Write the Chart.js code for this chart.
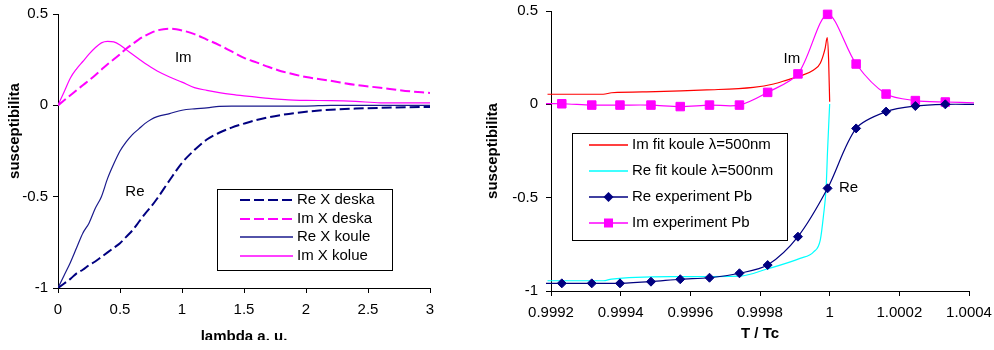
<!DOCTYPE html>
<html>
<head>
<meta charset="utf-8">
<script src="https://cdn.jsdelivr.net/npm/chart.js"></script>
<style>
html, body { margin: 0; padding: 0; background: #fff; }
#wrap { position: relative; width: 994px; height: 350px; overflow: hidden; }
#leftBox { position: absolute; left: 0; top: 0; width: 480px; height: 340px; overflow: hidden; }
#rightBox { position: absolute; left: 480px; top: 0; width: 514px; height: 350px; }
canvas { display: block; }
</style>
</head>
<body>
<div id="wrap">
  <div id="leftBox"><canvas id="lambda-chart" width="480" height="350"></canvas></div>
  <div id="rightBox"><canvas id="temp-chart" width="514" height="350"></canvas></div>
</div>
<script>
// ---- left chart: susceptibilita vs lambda ----
const lambdaX = [0, 0.05, 0.1, 0.15, 0.2, 0.25, 0.3, 0.35, 0.4, 0.45, 0.5, 0.55, 0.6, 0.65, 0.7, 0.75, 0.8,
    0.9, 1.0, 1.1, 1.2, 1.3, 1.4, 1.5, 1.6, 1.7, 1.8, 1.9, 2.0, 2.2, 2.4, 2.6, 2.8, 3.0];
const reDeska = [-1, -0.975, -0.95, -0.92, -0.9, -0.875, -0.855, -0.83, -0.805, -0.78, -0.755, -0.72, -0.685, -0.64, -0.595, -0.555, -0.51,
    -0.41, -0.315, -0.245, -0.187, -0.15, -0.122, -0.1, -0.08, -0.065, -0.053, -0.043, -0.035, -0.024, -0.018, -0.014, -0.011, -0.009];
const imDeska = [0, 0.028, 0.055, 0.083, 0.11, 0.137, 0.165, 0.195, 0.225, 0.252, 0.28, 0.31, 0.335, 0.36, 0.38, 0.397, 0.41,
    0.42, 0.41, 0.39, 0.36, 0.33, 0.295, 0.26, 0.235, 0.21, 0.187, 0.17, 0.155, 0.134, 0.112, 0.096, 0.079, 0.068];
const reKoule = [-1, -0.93, -0.86, -0.78, -0.7, -0.645, -0.565, -0.5, -0.4, -0.32, -0.25, -0.2, -0.16, -0.13, -0.1, -0.077, -0.062,
    -0.045, -0.027, -0.019, -0.014, -0.006, -0.004, -0.004, -0.004, -0.004, -0.004, -0.004, -0.004, 0, 0, 0, 0, 0];
const imKolue = [0, 0.075, 0.15, 0.2, 0.24, 0.28, 0.315, 0.342, 0.35, 0.347, 0.33, 0.305, 0.28, 0.255, 0.23, 0.208, 0.188,
    0.155, 0.127, 0.097, 0.082, 0.07, 0.06, 0.052, 0.045, 0.038, 0.033, 0.029, 0.027, 0.026, 0.022, 0.014, 0.014, 0.014];
const lambdaTicks = [0, 0.5, 1, 1.5, 2, 2.5, 3];
const lambdaTickLabels = ['0', '0.5', '1', '1.5', '2', '2.5', '3'];
const suscTicks = [-1, -0.5, 0, 0.5];
const suscTickLabels = ['-1', '-0.5', '0', '0.5'];
const leftNoteText = ['Im', 'Re'];
const leftNoteX = [1.01, 0.62];
const leftNoteY = [0.262, -0.472];

// ---- right chart: susceptibilita vs T / Tc ----
const fitImT = [0.99919, 0.99935, 0.999374, 0.9995, 0.999647, 0.999781, 0.999839, 0.999877, 0.999915, 0.999954, 0.999973, 0.999987, 0.999993, 0.999997, 1.0];
const fitImY = [0.054, 0.054, 0.062, 0.068, 0.077, 0.091, 0.109, 0.13, 0.152, 0.184, 0.22, 0.3, 0.357, 0.237, 0.014];
const fitReT = [0.99919, 0.99935, 0.999374, 0.999551, 0.999743, 0.99982, 0.999915, 0.999954, 0.999973, 0.999982, 0.99999, 0.999994, 1.0];
const fitReY = [-0.945, -0.945, -0.936, -0.923, -0.92, -0.882, -0.825, -0.79, -0.727, -0.6, -0.44, -0.245, 0.002];
const expT = [0.999145, 0.999231, 0.999317, 0.999398, 0.999487, 0.999571, 0.999655, 0.999741, 0.999822, 0.999909, 0.999994,
    1.000076, 1.000162, 1.000246, 1.000332, 1.000418];
const expRe = [-0.959, -0.959, -0.959, -0.959, -0.95, -0.937, -0.929, -0.905, -0.861, -0.709, -0.45, -0.129, -0.039, -0.009, 0, 0];
const expIm = [0.003, 0.003, -0.004, -0.004, -0.004, -0.012, -0.004, -0.004, 0.064, 0.163, 0.482, 0.216, 0.055, 0.02, 0.0125, 0.008];
const tempTicks = [0.9992, 0.9994, 0.9996, 0.9998, 1, 1.0002, 1.0004];
const tempTickLabels = ['0.9992', '0.9994', '0.9996', '0.9998', '1', '1.0002', '1.0004'];
const rightNoteText = ['Im', 'Re'];
const rightNoteX = [0.9998915, 1.000054];
const rightNoteY = [0.246, -0.45];

const FONT = "'Liberation Sans', Arial, sans-serif";
Chart.defaults.font.family = FONT;
Chart.defaults.color = '#000';

const toPoints = (xs, ys) => xs.map((x, i) => ({ x, y: ys[i] }));

// legend box drawn inside the plot, like the original
const boxLegend = {
    id: 'boxLegend',
    afterDatasetsDraw(chart, args, o) {
        const ctx = chart.ctx;
        ctx.save();
        ctx.fillStyle = '#fff';
        ctx.fillRect(o.left, o.top, o.width, o.height);
        ctx.strokeStyle = '#000';
        ctx.lineWidth = 1;
        ctx.strokeRect(o.left + 0.5, o.top + 0.5, o.width, o.height);
        ctx.font = '15px ' + FONT;
        ctx.textBaseline = 'middle';
        ctx.textAlign = 'left';
        chart.data.datasets.forEach((ds, i) => {
            const y = Math.round(o.top + o.firstRow + i * o.rowHeight);
            ctx.strokeStyle = ds.borderColor;
            ctx.lineWidth = Math.max(ds.borderWidth, 1.6);
            ctx.setLineDash(ds.borderDash || []);
            ctx.beginPath();
            ctx.moveTo(o.lineStart, y);
            ctx.lineTo(o.lineEnd, y);
            ctx.stroke();
            ctx.setLineDash([]);
            const mid = (o.lineStart + o.lineEnd) / 2;
            if (ds.pointStyle === 'rect') {
                ctx.fillStyle = ds.pointBackgroundColor;
                ctx.fillRect(mid - 4.5, y - 4.5, 9, 9);
            } else if (ds.pointStyle === 'rectRot') {
                ctx.fillStyle = ds.pointBackgroundColor;
                ctx.beginPath();
                ctx.moveTo(mid - 5, y);
                ctx.lineTo(mid, y - 5);
                ctx.lineTo(mid + 5, y);
                ctx.lineTo(mid, y + 5);
                ctx.closePath();
                ctx.fill();
            }
            ctx.fillStyle = '#000';
            ctx.fillText(ds.label, o.textStart, y);
        });
        ctx.restore();
    }
};

// "Im" / "Re" labels placed in data coordinates, optional free y-axis title
const textNotes = {
    id: 'textNotes',
    afterDatasetsDraw(chart, args, o) {
        const ctx = chart.ctx;
        const xs = chart.scales.x, ys = chart.scales.y;
        ctx.save();
        ctx.font = '15px ' + FONT;
        ctx.fillStyle = '#000';
        ctx.textAlign = 'center';
        ctx.textBaseline = 'middle';
        o.text.forEach((t, i) => {
            ctx.fillText(t, xs.getPixelForValue(o.x[i]), ys.getPixelForValue(o.y[i]));
        });
        if (o.yTitle) {
            ctx.font = 'bold 15px ' + FONT;
            ctx.translate(o.yTitle.x, o.yTitle.y);
            ctx.rotate(-Math.PI / 2);
            ctx.fillText(o.yTitle.text, 0, 0);
        }
        ctx.restore();
    }
};

const axisGrid = { drawOnChartArea: false, drawTicks: true, tickLength: 5, color: '#000' };

function makeScales(xMin, xMax, xTicks, xLabels, xTitle, yWidth, xHeight, yTitleShown, yTitlePad, xTitlePad, tickPadY) {
    return {
        x: {
            type: 'linear', min: xMin, max: xMax,
            afterBuildTicks: s => { s.ticks = xTicks.map(v => ({ value: v })); },
            afterFit: s => { s.height = xHeight; s.paddingLeft = 0; s.paddingRight = 0; },
            ticks: { callback: (v, i) => xLabels[i], font: { size: 15 }, padding: 8, maxRotation: 0, autoSkip: false },
            grid: axisGrid,
            border: { color: '#000', width: 1 },
            title: { display: true, text: xTitle, font: { size: 15, weight: 'bold' }, padding: { top: 0, bottom: xTitlePad } }
        },
        y: {
            type: 'linear', min: -1, max: 0.5,
            afterBuildTicks: s => { s.ticks = suscTicks.map(v => ({ value: v })); },
            afterFit: s => { s.width = yWidth; s.paddingTop = 0; s.paddingBottom = 0; },
            ticks: { callback: (v, i) => suscTickLabels[i], font: { size: 15 }, padding: tickPadY, autoSkip: false },
            grid: axisGrid,
            border: { color: '#000', width: 1 },
            title: { display: yTitleShown, text: 'susceptibilita', font: { size: 15, weight: 'bold' }, padding: { top: yTitlePad, bottom: 0 } }
        }
    };
}

new Chart(document.getElementById('lambda-chart'), {
    type: 'line',
    data: {
        datasets: [
            { label: 'Re X deska', data: toPoints(lambdaX, reDeska), borderColor: '#000080', borderWidth: 2, borderDash: [10, 4] },
            { label: 'Im X deska', data: toPoints(lambdaX, imDeska), borderColor: '#ff00ff', borderWidth: 2, borderDash: [10, 4] },
            { label: 'Re X koule', data: toPoints(lambdaX, reKoule), borderColor: '#1a1a8c', borderWidth: 1.2 },
            { label: 'Im X kolue', data: toPoints(lambdaX, imKolue), borderColor: '#ff00ff', borderWidth: 1.2 }
        ]
    },
    options: {
        responsive: false,
        animation: false,
        layout: { autoPadding: false, padding: { left: 0, right: 50, top: 14, bottom: 0 } },
        elements: { point: { radius: 0 }, line: { cubicInterpolationMode: 'monotone', fill: false } },
        scales: makeScales(0, 3, lambdaTicks, lambdaTickLabels, 'lambda a. u.', 58, 62, false, 0, 4, 5),
        plugins: {
            legend: { display: false },
            tooltip: { enabled: false },
            boxLegend: { left: 217, top: 189, width: 175, height: 81, firstRow: 11, rowHeight: 18.7, lineStart: 240, lineEnd: 293, textStart: 297 },
            textNotes: { text: leftNoteText, x: leftNoteX, y: leftNoteY, yTitle: { text: 'susceptibilita', x: 15, y: 131 } }
        }
    },
    plugins: [boxLegend, textNotes]
});

const hideOutside = c => (c.raw && (c.raw.x < 0.9992 || c.raw.x > 1.0004)) ? 0 : 4.5;
const clipBox = { left: 5, top: 10, right: 5, bottom: 10 };

new Chart(document.getElementById('temp-chart'), {
    type: 'line',
    data: {
        datasets: [
            { label: 'Im fit koule \u03bb=500nm', data: toPoints(fitImT, fitImY), borderColor: '#ff0000', borderWidth: 1.2,
              pointRadius: 0, cubicInterpolationMode: 'monotone', order: 1, clip: clipBox },
            { label: 'Re fit koule \u03bb=500nm', data: toPoints(fitReT, fitReY), borderColor: '#00ffff', borderWidth: 1.2,
              pointRadius: 0, cubicInterpolationMode: 'monotone', order: 1, clip: clipBox },
            { label: 'Re experiment Pb', data: toPoints(expT, expRe), borderColor: '#000080', borderWidth: 1.2,
              pointStyle: 'rectRot', pointRadius: hideOutside, pointBackgroundColor: '#000080', pointBorderColor: '#000080',
              pointBorderWidth: 1, tension: 0.3, order: 0, clip: clipBox },
            { label: 'Im experiment Pb', data: toPoints(expT, expIm), borderColor: '#ff00ff', borderWidth: 1.2,
              pointStyle: 'rect', pointRadius: c => hideOutside(c) ? 6 : 0, pointBackgroundColor: '#ff00ff', pointBorderColor: '#ff00ff',
              pointBorderWidth: 1, tension: 0.3, order: 0, clip: clipBox }
        ]
    },
    options: {
        responsive: false,
        animation: false,
        layout: { autoPadding: false, padding: { left: 0, right: 25, top: 11, bottom: 0 } },
        elements: { line: { fill: false } },
        scales: makeScales(0.9992, 1.0004, tempTicks, tempTickLabels, 'T / Tc', 71, 59, true, 4, 7, 8),
        plugins: {
            legend: { display: false },
            tooltip: { enabled: false },
            boxLegend: { left: 92, top: 133, width: 215, height: 107, firstRow: 12, rowHeight: 26, lineStart: 109, lineEnd: 148, textStart: 152 },
            textNotes: { text: rightNoteText, x: rightNoteX, y: rightNoteY }
        }
    },
    plugins: [boxLegend, textNotes]
});
</script>
</body>
</html>
